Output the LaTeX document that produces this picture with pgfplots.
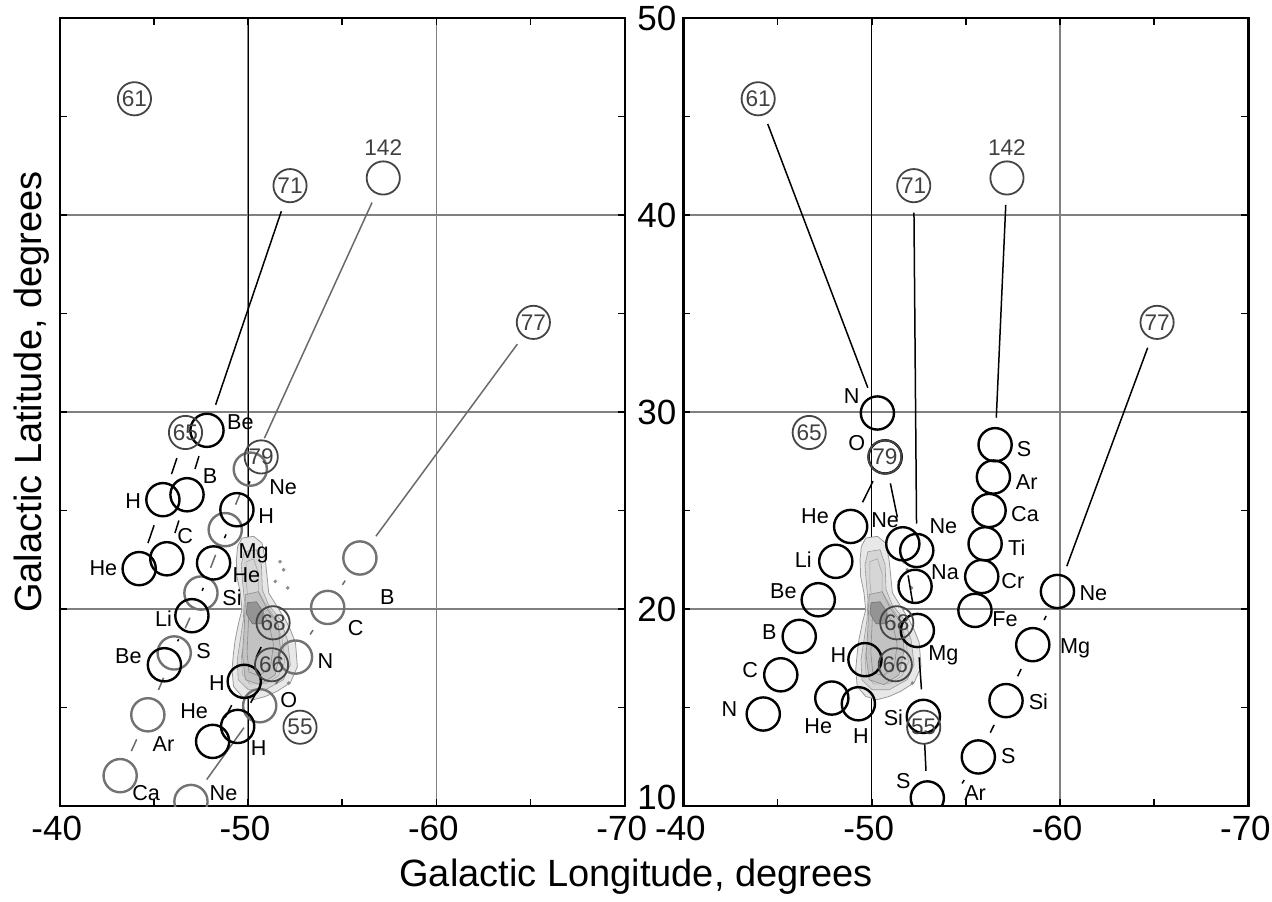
\documentclass[border=0pt]{standalone}
\usepackage{pgfplots}
\usepackage{pgfplotstable}
\pgfplotsset{compat=1.18}
\usepackage{fontspec}
\setmainfont{Liberation Sans}
\definecolor{gcirc}{HTML}{727272}
\definecolor{ncirc}{HTML}{454545}
\definecolor{gline}{HTML}{6A6A6A}
\newcommand{\lblfont}{\fontsize{10.8}{12}\selectfont}
\newcommand{\numfont}{\fontsize{11.3}{12}\selectfont}
\newcommand{\bigfont}{\fontsize{19}{22}\selectfont}
\newcommand{\tickfont}{\fontsize{17.5}{20}\selectfont}
\pgfplotstableread{
x y
-43.97 45.90
-52.23 41.49
-65.15 34.55
-46.68 28.96
-50.70 27.72
-51.33 19.30
-51.25 17.17
-52.76 14.00
-57.18 41.88
}\numcirc
\pgfplotstableread{
x y t
-43.97 45.90 61
-52.23 41.49 71
-65.15 34.55 77
-46.68 28.96 65
-50.70 27.72 79
-51.33 19.30 68
-51.25 17.17 66
-52.76 14.00 55
-57.18 43.40 142
}\numlbl
\pgfplotsset{
  panel/.style={
    scale only axis, width=282.5pt, height=394pt,
    x dir=reverse, xmin=-70, xmax=-40, ymin=10, ymax=50,
    xtick={-70,-60,-50,-40}, xticklabels={-70,-60,-50,-40},
    minor xtick={-65,-55,-45},
    ytick={10,20,30,40,50}, minor ytick={15,25,35,45},
    tick align=inside, major tick length=3.5pt, minor tick length=3.5pt,
    every tick/.style={black, line width=0.8pt},
    axis line style={line width=1.1pt},
    grid=major, major grid style={line width=0.7pt, color=black!50},
    extra x ticks={-50}, extra x tick labels={},
    extra x tick style={grid=major, major grid style={black, line width=0.5pt}},
    tick label style={font=\tickfont},
    xticklabel style={yshift=-1.5pt, xshift=-1.5pt},
    clip marker paths=true,
  },
  blk/.style={only marks, mark=o, mark size=8.3pt, black, mark options={line width=1.2pt}},
  gry/.style={only marks, mark=o, mark size=8.3pt, gcirc, mark options={line width=1.2pt}},
  numc/.style={only marks, mark=o, mark size=8.3pt, ncirc, mark options={line width=0.9pt}},
  bl/.style={black, line width=0.75pt, shorten <=13.5pt, shorten >=13.5pt},
  gl/.style={gline, line width=0.75pt, shorten <=13.5pt, shorten >=13.5pt},
  lbl/.style={draw=none, nodes near coords, point meta=explicit symbolic,
    nodes near coords style={anchor=center, font=\lblfont, text=black, inner sep=0pt}},
  nlbl/.style={draw=none, nodes near coords, point meta=explicit symbolic,
    nodes near coords style={anchor=center, font=\numfont, text=black!75, inner sep=0pt}},
}
\newcommand{\blob}{%
  \addplot[fill=black!9, draw=black!40, line width=0.4pt] coordinates {
    (-49.68,23.60) (-50.30,23.69) (-50.74,23.35) (-50.92,22.50) (-51.01,21.65)
    (-51.10,20.81) (-51.54,20.13) (-51.98,19.46) (-52.25,18.95) (-52.52,18.29)
    (-52.62,17.07) (-52.25,16.26) (-51.54,15.82) (-50.92,15.56) (-50.30,15.40)
    (-49.68,15.56) (-49.23,16.07) (-49.15,16.92) (-49.23,17.77) (-49.32,18.44)
    (-49.50,19.29) (-49.68,19.96) (-49.59,20.81) (-49.41,21.65) (-49.38,22.50)
    (-49.45,23.18) (-49.68,23.60)};
  \addplot[fill=black!16, draw=black!40, line width=0.3pt] coordinates {
    (-49.80,22.91) (-50.44,23.01) (-50.71,22.25) (-50.76,20.98) (-51.08,20.22)
    (-51.72,19.46) (-52.09,18.44) (-52.25,17.17) (-51.88,16.41) (-50.92,15.90)
    (-50.02,15.90) (-49.48,16.41) (-49.43,17.43) (-49.59,18.44) (-49.75,19.46)
    (-49.80,20.47) (-49.70,21.49) (-49.64,22.25) (-49.80,22.91)};
  \addplot[draw=black!35, line width=0.3pt] coordinates {
    (-49.90,22.40) (-50.30,22.55) (-50.55,21.80) (-50.55,20.90) (-50.90,20.30)
    (-51.40,19.60) (-51.80,18.50) (-51.95,17.30) (-51.60,16.60) (-50.90,16.20)
    (-50.10,16.20) (-49.70,16.70) (-49.65,17.60) (-49.85,18.60) (-49.95,19.60)
    (-50.00,20.50) (-49.90,21.40) (-49.90,22.40)};
  \addplot[fill=black!24, draw=black!45, line width=0.3pt] coordinates {
    (-49.86,20.73) (-50.55,20.88) (-50.97,20.07) (-51.61,19.20) (-51.72,17.93)
    (-51.45,16.66) (-50.65,16.16) (-49.86,16.41) (-49.70,17.68) (-49.80,19.02)
    (-49.86,20.73)};
  \addplot[draw=black!45, line width=0.3pt] coordinates {
    (-50.05,19.90) (-50.60,20.10) (-51.10,19.30) (-51.35,18.20) (-51.20,17.10)
    (-50.60,16.60) (-50.05,16.80) (-49.95,17.80) (-50.05,19.90)};
  \addplot[fill=black!42, draw=black!55, line width=0.3pt] coordinates {
    (-49.96,20.32) (-50.44,20.37) (-50.81,19.86) (-50.76,19.25) (-50.23,19.25)
    (-49.91,19.76) (-49.96,20.32)};
  \addplot[only marks, mark=*, mark size=0.7pt, black!45] coordinates {
    (-51.89,21.99) (-52.11,21.07) (-51.45,21.40) (-52.16,16.24) (-51.70,22.40)};
}
\newcommand{\numbered}{%
  \addplot[numc] table {\numcirc};
  \addplot[nlbl] table[meta=t] {\numlbl};
}
\begin{document}
\begin{tikzpicture}
\path[use as bounding box] (-29.85pt,-47.5pt) rectangle (606.15pt,403pt);
% ---------------- left panel ----------------
\begin{axis}[panel, at={(0pt,0pt)}, anchor=south west, yticklabels={}]
\blob
% black chain lines
\addplot[bl] coordinates {(-52.23,41.49) (-47.82,29.07)};
\addplot[bl] coordinates {(-46.68,28.96) (-45.48,25.55)};
\addplot[bl] coordinates {(-47.82,29.07) (-46.76,25.80)};
\addplot[bl] coordinates {(-45.48,25.55) (-44.22,22.05)};
\addplot[bl] coordinates {(-46.76,25.80) (-45.69,22.55)};
\addplot[bl] coordinates {(-50.70,27.72) (-49.41,25.04)};
\addplot[bl] coordinates {(-49.41,25.04) (-48.17,22.34)};
\addplot[bl] coordinates {(-48.17,22.34) (-47.02,19.66)};
\addplot[bl] coordinates {(-47.02,19.66) (-45.56,17.17)};
\addplot[bl] coordinates {(-51.33,19.30) (-49.80,16.33)};
\addplot[bl] coordinates {(-49.80,16.33) (-48.12,13.28)};
\addplot[bl] coordinates {(-51.25,17.17) (-49.45,14.04)};
% gray chain lines
\addplot[gl, shorten >=17pt] coordinates {(-57.18,41.88) (-50.12,27.10)};
\addplot[gl] coordinates {(-50.12,27.10) (-48.79,24.03)};
\addplot[gl] coordinates {(-48.79,24.03) (-47.50,20.81)};
\addplot[gl] coordinates {(-47.50,20.81) (-46.08,17.77)};
\addplot[gl] coordinates {(-46.08,17.77) (-44.68,14.63)};
\addplot[gl] coordinates {(-44.68,14.63) (-43.21,11.54)};
\addplot[gl] coordinates {(-65.15,34.55) (-55.94,22.59)};
\addplot[gl] coordinates {(-55.94,22.59) (-54.23,20.08)};
\addplot[gl] coordinates {(-54.23,20.08) (-52.52,17.56)};
\addplot[gl] coordinates {(-52.52,17.56) (-50.62,15.09)};
\addplot[gl] coordinates {(-50.62,15.09) (-46.97,10.23)};
% gray circles
\addplot[gry] table {
x y
-50.12 27.10
-48.79 24.03
-47.50 20.81
-46.08 17.77
-44.68 14.63
-43.21 11.54
-46.97 10.23
-50.62 15.09
-52.52 17.56
-54.23 20.08
-55.94 22.59
};
% black circles
\addplot[blk] table {
x y
-47.82 29.07
-45.48 25.55
-46.76 25.80
-49.41 25.04
-44.22 22.05
-45.69 22.55
-48.17 22.34
-47.02 19.66
-45.56 17.17
-49.80 16.33
-48.12 13.28
-49.45 14.04
};
\numbered
\addplot[lbl] table[meta=t] {
x y t
-49.59 29.46 Be
-47.99 26.73 B
-51.86 26.19 Ne
-43.90 25.46 H
-50.97 24.70 H
-46.66 23.69 C
-50.30 22.84 Mg
-42.32 22.08 He
-49.91 21.74 He
-49.15 20.56 Si
-45.51 19.49 Li
-47.64 17.85 S
-43.65 17.63 Be
-48.35 16.24 H
-47.14 14.80 He
-52.16 15.40 O
-54.11 17.34 N
-55.71 19.04 C
-57.40 20.60 B
-45.51 13.16 Ar
-50.56 12.94 H
-44.59 10.66 Ca
-48.70 10.66 Ne
};
\end{axis}
% ---------------- right panel ----------------
\begin{axis}[panel, at={(311.85pt,0pt)}, anchor=south west,
  yticklabels={\raisebox{4.5pt}[\height][\depth]{10},20,30,40,50}]
\blob
\addplot[bl] coordinates {(-43.97,45.90) (-50.30,29.95)};
\addplot[bl] coordinates {(-52.23,41.49) (-52.39,22.97)};
\addplot[bl] coordinates {(-57.18,41.88) (-56.55,28.34)};
\addplot[bl] coordinates {(-65.15,34.55) (-59.86,20.89)};
\addplot[bl] coordinates {(-50.70,27.72) (-48.88,24.19)};
\addplot[bl] coordinates {(-50.70,27.72) (-51.65,23.31)};
\addplot[bl, shorten <=16pt] coordinates {(-51.65,23.31) (-52.42,18.91)};
\addplot[bl] coordinates {(-52.42,18.91) (-52.74,14.55)};
\addplot[bl] coordinates {(-52.74,14.55) (-52.95,10.41)};
\addplot[bl] coordinates {(-59.86,20.89) (-58.55,18.19)};
\addplot[bl] coordinates {(-58.55,18.19) (-57.13,15.35)};
\addplot[bl] coordinates {(-57.13,15.35) (-55.66,12.49)};
\addplot[bl] coordinates {(-55.66,12.49) (-54.05,9.98)};
\addplot[blk] table {
x y
-50.30 29.95
-50.71 27.72
-48.88 24.19
-48.09 22.42
-47.16 20.47
-46.15 18.61
-45.17 16.66
-44.24 14.67
-51.65 23.31
-52.39 22.97
-52.30 21.15
-52.42 18.91
-49.64 17.43
-47.88 15.48
-49.29 15.19
-52.74 14.55
-52.95 10.41
-54.05 9.98
-56.55 28.34
-56.46 26.70
-56.23 25.00
-56.02 23.31
-55.84 21.65
-55.48 19.93
-59.86 20.89
-58.55 18.19
-57.13 15.35
-55.66 12.49
};
\numbered
\addplot[lbl] table[meta=t] {
x y t
-48.94 30.79 N
-49.20 28.43 O
-46.99 24.70 He
-50.71 24.53 Ne
-53.80 24.19 Ne
-46.37 22.50 Li
-53.89 21.86 Na
-45.31 20.89 Be
-44.56 18.81 B
-53.80 17.63 Mg
-48.23 17.68 H
-43.54 16.88 C
-42.44 14.92 N
-47.16 14.04 He
-49.43 13.57 H
-51.15 14.47 Si
-51.68 11.25 S
-55.49 10.66 Ar
-58.09 28.12 S
-58.23 26.43 Ar
-58.14 24.84 Ca
-57.70 23.10 Ti
-57.49 21.40 Cr
-57.08 19.46 Fe
-61.77 20.81 Ne
-60.80 18.02 Mg
-58.85 15.31 Si
-57.25 12.52 S
};
\end{axis}
\node[rotate=90, anchor=base, font=\bigfont] at (-8.85pt,207pt) {Galactic Latitude, degrees};
\node[anchor=base, font=\bigfont] at (288.15pt,-40pt) {Galactic Longitude, degrees};
\end{tikzpicture}
\end{document}
